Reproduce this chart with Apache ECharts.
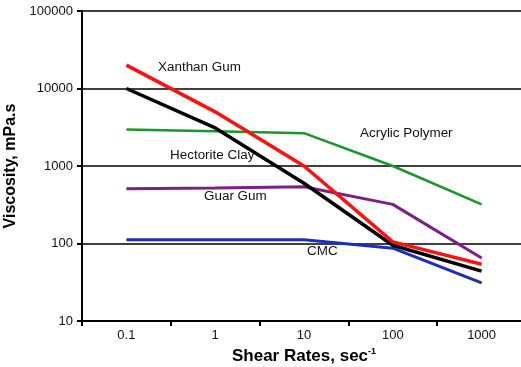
<!DOCTYPE html>
<html><head><meta charset="utf-8">
<script src="https://cdn.jsdelivr.net/npm/echarts@6/dist/echarts.min.js"></script>
<style>html,body{margin:0;padding:0;background:#fff}#c{width:521px;height:367px}</style>
</head><body><div id="c"></div>
<script>
var shearRates = ['0.1', '1', '10', '100', '1000'];
var xanthanGum = [20000, 5000, 1000, 105, 54];
var hectoriteClay = [10000, 3100, 600, 95, 44];
var acrylicPolymer = [2950, 2800, 2650, 1000, 320];
var guarGum = [510, 520, 540, 320, 65];
var cmc = [112, 112, 112, 87, 31];
var yTicks = [10, 100, 1000, 10000, 100000];

var FONT = '"Liberation Sans", Arial, Helvetica, sans-serif';
var chart = echarts.init(document.getElementById('c'));
function ser(name, data, color, w) {
  return { name: name, type: 'line', data: data, symbol: 'none', smooth: false,
    lineStyle: { color: color, width: w }, itemStyle: { color: color }, z: 3 };
}
function ann(text, left, top) {
  return { type: 'text', left: left, top: top, scaleX: 1.12, style: { text: text, font: '12px ' + FONT, fill: '#111' } };
}
chart.setOption({
  animation: false,
  grid: { left: 82, right: -5, top: 11, bottom: 46, containLabel: false, outerBoundsMode: 'none' },
  xAxis: {
    type: 'category', data: shearRates, boundaryGap: true,
    axisLine: { lineStyle: { color: '#000', width: 2 } },
    axisTick: { show: true, length: 5, lineStyle: { color: '#000', width: 2 } },
    axisLabel: { color: '#111', fontSize: 13, fontFamily: FONT, margin: 8 },
    name: '{a|Shear Rates, sec}{b|-1}', nameLocation: 'middle', nameGap: 26,
    nameTextStyle: { rich: {
      a: { fontSize: 17, fontWeight: 'bold', fontFamily: FONT, color: '#000' },
      b: { fontSize: 9, fontWeight: 'bold', fontFamily: FONT, color: '#000', padding: [0, 0, 9, 0] }
    } }
  },
  yAxis: {
    type: 'log', logBase: 10, min: yTicks[0], max: yTicks[yTicks.length - 1],
    axisLine: { show: true, lineStyle: { color: '#000', width: 2 } },
    axisTick: { show: true, length: 5, lineStyle: { color: '#000', width: 2 } },
    axisLabel: { color: '#111', fontSize: 13, fontFamily: FONT, margin: 9,
      formatter: function (v) { return String(Math.round(v)); } },
    splitLine: { show: true, lineStyle: { color: '#000', width: 1.5 } },
    name: 'Viscosity, mPa.s', nameLocation: 'middle', nameGap: 60,
    nameTextStyle: { fontSize: 16, fontWeight: 'bold', fontFamily: FONT, color: '#000' }
  },
  series: [
    ser('Acrylic Polymer', acrylicPolymer, '#16992a', 2.5),
    ser('Guar Gum', guarGum, '#7d1f88', 3),
    ser('CMC', cmc, '#1a2fc0', 3),
    ser('Hectorite Clay', hectoriteClay, '#000000', 3.5),
    ser('Xanthan Gum', xanthanGum, '#ff1010', 3.5)
  ],
  graphic: [
    ann('Xanthan Gum', 158, 62),
    ann('Acrylic Polymer', 360, 128),
    ann('Hectorite Clay', 170, 150),
    ann('Guar Gum', 204, 191),
    ann('CMC', 307, 246)
  ]
});
</script></body></html>
